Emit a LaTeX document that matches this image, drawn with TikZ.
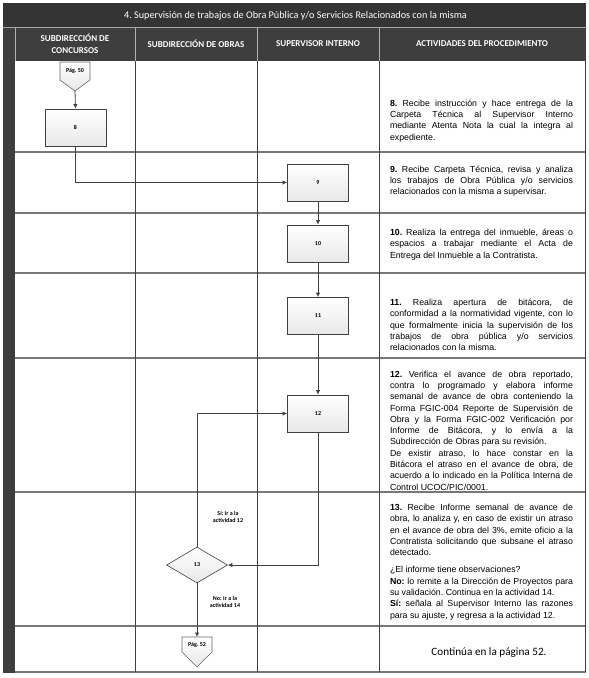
\documentclass[tikz,border=0pt]{standalone}
\usepackage{fontspec}
\setmainfont{Liberation Sans}
\newfontfamily\calibri{Carlito}
\usetikzlibrary{shapes.geometric,arrows.meta}
\definecolor{framedark}{RGB}{52,52,52}
\definecolor{framemid}{RGB}{62,62,62}
\definecolor{lineclr}{RGB}{64,64,64}
\definecolor{hlineclr}{RGB}{120,120,120}
\frenchspacing
\begin{document}
\begin{tikzpicture}[x=1pt,y=-1pt,
  vline/.style={draw=lineclr,line width=0.8pt},
  hline/.style={draw=hlineclr,line width=1.1pt},
  hdr/.style={text=white,font=\calibri\bfseries\fontsize{9}{11.5}\selectfont,align=center},
  procbox/.style={draw=lineclr,line width=0.8pt,minimum width=61pt,minimum height=37pt,inner sep=0pt,
    top color=white,bottom color=gray!18,font=\calibri\bfseries\fontsize{6}{7}\selectfont},
  decbox/.style={diamond,draw=lineclr,line width=0.6pt,minimum width=61pt,minimum height=36pt,inner sep=0pt,
    top color=white,bottom color=gray!18,font=\calibri\bfseries\fontsize{6}{7}\selectfont},
  pagebox/.style={draw=gray!80!black,line width=0.6pt,top color=white,bottom color=gray!18},
  pagetxt/.style={font=\calibri\bfseries\fontsize{6}{7}\selectfont,inner sep=0pt},
  arr/.style={draw=lineclr,line width=0.8pt,-{Latex[length=4.5pt,width=4.5pt]}},
  lbl/.style={font=\calibri\bfseries\fontsize{6}{7.5}\selectfont,align=center,inner sep=0pt},
  desc/.style={text width=183pt,align=justify,inner sep=0pt,
    font=\frenchspacing\fontsize{8.8}{11.3}\selectfont}
]
\useasboundingbox (0,0) rectangle (589,678);
% frame
\fill[framedark] (3,3) rectangle (586,27);
\fill[framemid] (3,27) rectangle (586,61);
\fill[framemid] (3,27) rectangle (15,673);
\draw[gray!70,line width=0.6pt] (3,27.5) -- (586,27.5);
\draw[gray!60,line width=0.5pt] (15,27.5) -- (15,61);
\draw[gray!60,line width=0.5pt] (135,27.5) -- (135,61);
\draw[gray!60,line width=0.5pt] (257,27.5) -- (257,61);
\draw[gray!60,line width=0.5pt] (379,27.5) -- (379,61);
\node[text=white,font=\calibri\fontsize{10.2}{12}\selectfont] (title) at (295.5,16) {4. Supervisión de trabajos de Obra Pública y/o Servicios Relacionados con la misma};
\node[hdr] (h1) at (75,44) {SUBDIRECCIÓN DE\\CONCURSOS};
\node[hdr] (h2) at (196,44) {SUBDIRECCIÓN DE OBRAS};
\node[hdr] (h3) at (318,44) {SUPERVISOR INTERNO};
\node[hdr] (h4) at (482,44) {ACTIVIDADES DEL PROCEDIMIENTO};
% grid
\foreach \yy in {152,213,273,358,492,626,672} {\draw[hline] (15,\yy) -- (586,\yy);}
\foreach \xx in {135,257,379} {\draw[vline] (\xx,61) -- (\xx,672);}
\draw[vline] (585.5,61) -- (585.5,672);
% connectors
\draw[pagebox] (60,62) -- (90,62) -- (90,80) -- (75,91) -- (60,80) -- cycle;
\node[pagetxt] (p50) at (75,71) {Pág. 50};
\coordinate (p50b) at (75,91);
\draw[pagebox] (182,637) -- (212,637) -- (212,652) -- (197,667) -- (182,652) -- cycle;
\node[pagetxt] (p52) at (197,645) {Pág. 52};
\coordinate (p52t) at (197,637);
% process boxes
\node[procbox] (b8) at (75.5,127.5) {8};
\node[procbox] (b9) at (318,182.5) {9};
\node[procbox] (b10) at (318,243.5) {10};
\node[procbox] (b11) at (318,316) {11};
\node[procbox] (b12) at (318,413.5) {12};
\node[decbox] (d13) at (197,565) {13};
% arrows
\draw[arr] (p50b) -- (b8.north);
\draw[arr] (b8.south) |- (b9.west);
\draw[arr] (b9.south) -- (b10.north);
\draw[arr] (b10.south) -- (b11.north);
\draw[arr] (b11.south) -- (b12.north);
\draw[arr] (b12.south) |- (d13.east);
\draw[arr] (d13.north) |- (b12.west);
\draw[arr] (d13.south) -- (p52t);
\node[lbl] (lsi) at (228,517) {Sí: Ir a la\\actividad 12};
\node[lbl] (lno) at (225,602) {No: Ir a la\\actividad 14};
% descriptions
\node[desc] (t8) at (481.5,121) {\textbf{8.} Recibe instrucción y hace entrega de la\linebreak Carpeta Técnica al Supervisor Interno\linebreak mediante Atenta Nota la cual la integra al\linebreak expediente.};
\node[desc] (t9) at (481.5,181) {\textbf{9.} Recibe Carpeta Técnica, revisa y analiza\linebreak los trabajos de Obra Pública y/o servicios\linebreak relacionados con la misma a supervisar.};
\node[desc] (t10) at (481.5,244.5) {\textbf{10.} Realiza la entrega del inmueble, áreas o\linebreak espacios a trabajar mediante el Acta de\linebreak Entrega del Inmueble a la Contratista.};
\node[desc] (t11) at (481.5,325) {\textbf{11.} Realiza apertura de bitácora, de\linebreak conformidad a la normatividad vigente, con lo\linebreak que formalmente inicia la supervisión de los\linebreak trabajos de obra pública y/o servicios\linebreak relacionados con la misma.};
\node[desc] (t12) at (481.5,430.5) {\textbf{12.} Verifica el avance de obra reportado,\linebreak contra lo programado y elabora informe\linebreak semanal de avance de obra conteniendo la\linebreak Forma FGIC-004 Reporte de Supervisión de\linebreak Obra y la Forma FGIC-002 Verificación por\linebreak Informe de Bitácora, y lo envía a la\linebreak Subdirección de Obras para su revisión.\par De existir atraso, lo hace constar en la\linebreak Bitácora el atraso en el avance de obra, de\linebreak acuerdo a lo indicado en la Política Interna de\linebreak Control UCOC/PIC/0001.};
\node[desc] (t13) at (481.5,562) {\textbf{13.} Recibe Informe semanal de avance de\linebreak obra, lo analiza y, en caso de existir un atraso\linebreak en el avance de obra del 3\%, emite oficio a la\linebreak Contratista solicitando que subsane el atraso\linebreak detectado.\par\vspace{6pt}¿El informe tiene observaciones?\par\textbf{No:} lo remite a la Dirección de Proyectos para\linebreak su validación. Continua en la actividad 14.\par\textbf{Sí:} señala al Supervisor Interno las razones\linebreak para su ajuste, y regresa a la actividad 12.};
\node[font=\calibri\fontsize{11.2}{13}\selectfont] (cont) at (489,653) {Continúa en la página 52.};
\end{tikzpicture}
\end{document}
